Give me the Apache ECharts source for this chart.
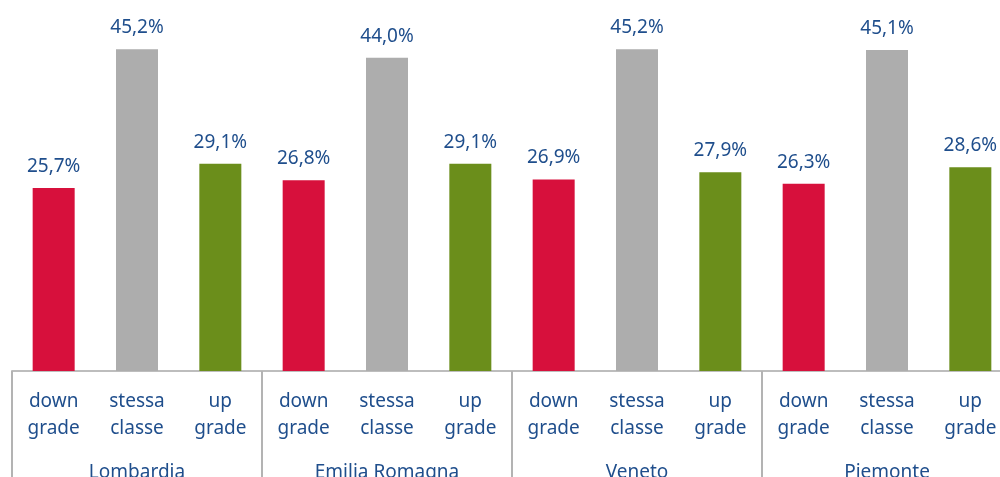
<!DOCTYPE html>
<html>
<head>
<meta charset="utf-8">
<script src="https://cdn.jsdelivr.net/npm/echarts@6/dist/echarts.min.js"></script>
<style>
  html, body { margin: 0; padding: 0; background: #fff; overflow: hidden; }
  #chart { width: 1012px; height: 477px; }
</style>
</head>
<body>
<div id="chart"></div>
<script>
  // dati
  const regions = ['Lombardia', 'Emilia Romagna', 'Veneto', 'Piemonte']
  const classes = ['down\ngrade', 'stessa\nclasse', 'up\ngrade']
  const downGrade = [25.7, 26.8, 26.9, 26.3]
  const stessaClasse = [45.2, 44.0, 45.2, 45.1]
  const upGrade = [29.1, 29.1, 27.9, 28.6]
  const classColors = ['#d7103c', '#adadad', '#6b8e1b']

  const textColor = '#1f4e8c'
  const fontFamily = 'Noto Sans'

  const categories = []
  const values = []
  regions.forEach(function (r, i) {
    [downGrade[i], stessaClasse[i], upGrade[i]].forEach(function (v, k) {
      categories.push(classes[k])
      values.push({ value: v, itemStyle: { color: classColors[k] } })
    })
  })

  const chart = echarts.init(document.getElementById('chart'))
  chart.setOption({
    animation: false,
    grid: {
      left: 12, top: 15, width: 1000, height: 356,
      containLabel: false,
      outerBoundsMode: 'none'
    },
    xAxis: [{
      type: 'category',
      data: categories,
      position: 'bottom',
      axisLine: { lineStyle: { color: '#bdbdbd', width: 2 } },
      axisTick: { show: false },
      axisLabel: {
        interval: 0,
        margin: 17,
        color: textColor,
        fontFamily: fontFamily,
        fontSize: 19,
        lineHeight: 27
      }
    }, {
      type: 'category',
      data: regions,
      position: 'bottom',
      axisLine: { show: false },
      axisTick: {
        show: true,
        length: 120,
        lineStyle: { color: '#b3b3b3', width: 2 }
      },
      axisLabel: {
        interval: 0,
        margin: 92,
        color: textColor,
        fontFamily: fontFamily,
        fontSize: 19
      }
    }],
    yAxis: {
      type: 'value',
      min: 0,
      max: 50,
      show: false,
      splitLine: { show: false }
    },
    series: [{
      type: 'bar',
      xAxisIndex: 0,
      data: values,
      barWidth: 42,
      label: {
        show: true,
        position: 'top',
        distance: 12,
        color: textColor,
        fontFamily: fontFamily,
        fontSize: 19,
        formatter: function (p) {
          return p.value.toFixed(1).replace('.', ',') + '%'
        }
      }
    }]
  })
</script>
</body>
</html>
